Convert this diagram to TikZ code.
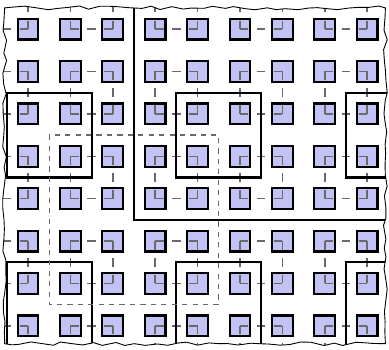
\documentclass[tikz,border=0pt]{standalone}
\usepackage{tikz}
\usetikzlibrary{decorations.pathmorphing}
\definecolor{procfill}{RGB}{194,194,244}
\definecolor{linkgray}{RGB}{105,105,105}

\begin{document}
\begin{tikzpicture}[
  proc/.style={fill=procfill,minimum size=0.49cm,inner sep=0pt,outer sep=0pt},
  procedge/.style={draw=black,line width=1.45pt},
  link/.style={draw=linkgray,line width=1pt,dash pattern=on 0.2cm off 0.2cm},
  block/.style={draw=black,line width=1.4pt},
  subgrid/.style={draw=linkgray,line width=0.8pt,dash pattern=on 3.5pt off 3.5pt},
  torn/.style={decorate,decoration={random steps,segment length=7pt,amplitude=1.3pt}}
]
\useasboundingbox (-0.66,0.686) rectangle (8.515,-7.546);
\begin{scope}
\pgfmathsetseed{12}
\clip[torn] (-0.55,0.5) -- (8.43,0.5) -- (8.43,-7.42) -- (-0.55,-7.42) -- cycle;
\foreach \c in {0,...,8}
  \foreach \r in {0,...,7}
    \node[proc] (p-\c-\r) at (\c,-\r) {};
\foreach \r in {0,...,7} {
  \coordinate (w-\r) at (-1,-\r);
  \draw[link] (w-\r) -- (p-0-\r.center);
  \foreach \c in {1,3,5,7} {
    \pgfmathtruncatemacro{\d}{\c+1}
    \draw[link] (p-\c-\r.center) -- (p-\d-\r.center);
  }
}
\foreach \c in {0,...,8} {
  \coordinate (n-\c) at (\c,1);
  \coordinate (s-\c) at (\c,-8);
  \draw[link] (n-\c) -- (p-\c-0.center);
  \draw[link] (p-\c-7.center) -- (s-\c);
  \foreach \r in {1,3,5} {
    \pgfmathtruncatemacro{\q}{\r+1}
    \draw[link] (p-\c-\r.center) -- (p-\c-\q.center);
  }
}
\foreach \c in {0,...,8}
  \foreach \r in {0,...,7}
    \draw[procedge] (p-\c-\r.south west) rectangle (p-\c-\r.north east);
\draw[block] (-0.5,-1.5) rectangle (1.5,-3.5);
\draw[block] (3.5,-1.5) rectangle (5.5,-3.5);
\draw[block] (7.5,-1.5) rectangle (9.5,-3.5);
\draw[block] (-0.5,-5.5) rectangle (1.5,-8);
\draw[block] (3.5,-5.5) rectangle (5.5,-8);
\draw[block] (7.5,-5.5) rectangle (9.5,-8);
\draw[block] (2.5,1) rectangle (9.5,-4.5);
\draw[subgrid] (0.5,-2.5) rectangle (4.5,-6.5);
\end{scope}
\pgfmathsetseed{12}
\draw[torn,line width=0.6pt] (-0.55,0.5) -- (8.43,0.5) -- (8.43,-7.42) -- (-0.55,-7.42) -- cycle;
\end{tikzpicture}
\end{document}
